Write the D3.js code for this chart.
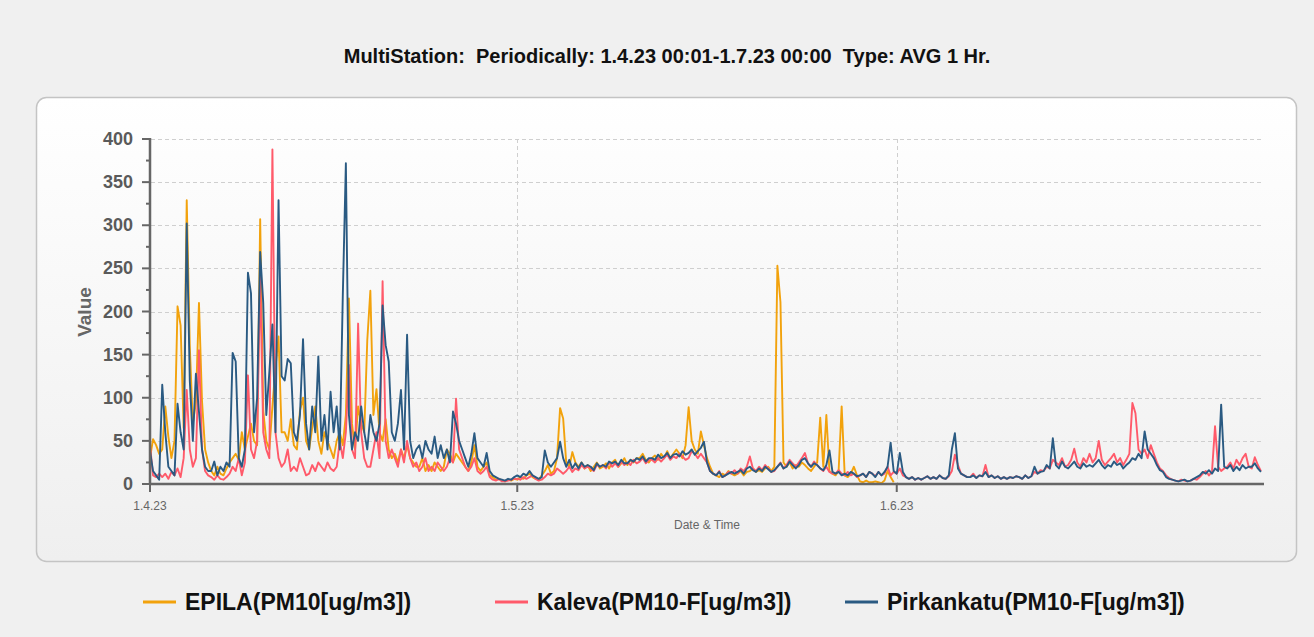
<!DOCTYPE html>
<html>
<head>
<meta charset="utf-8">
<script src="https://cdn.jsdelivr.net/npm/d3@7"></script>
<style>
  html, body { margin: 0; padding: 0; background: #f0f0f0; }
  svg { display: block; font-family: "Liberation Sans", Arial, sans-serif; }
</style>
</head>
<body>
<script>
// values sampled every 6 hours from 1.4.23 00:00
const epila = [
    30, 52, 45, 35, 40, 90, 55, 30, 50, 206, 184, 65, 329, 160, 70, 95, 210, 96, 40, 25, 15, 10, 20, 12, 10, 18, 25, 30,
    35, 28, 60, 40, 55, 70, 50, 45, 307, 85, 50, 40, 90, 135, 171, 60, 60, 50, 75, 45, 40, 85, 100, 50, 40, 65, 90, 50,
    35, 60, 50, 40, 30, 50, 60, 45, 80, 215, 70, 40, 90, 70, 60, 167, 224, 80, 110, 60, 50, 75, 40, 30, 35, 25, 40, 30,
    45, 30, 25, 20, 20, 30, 15, 22, 15, 25, 20, 15, 20, 40, 35, 25, 35, 30, 25, 20, 15, 25, 45, 20, 15, 20, 25, 10,
    8, 5, 6, 4, 3, 5, 4, 6, 5, 8, 6, 10, 12, 8, 6, 5, 10, 15, 22, 12, 15, 30, 88, 76, 25, 20, 37, 25,
    20, 25, 18, 22, 15, 20, 25, 18, 20, 24, 18, 25, 28, 20, 24, 30, 22, 28, 25, 30, 30, 35, 28, 25, 30, 33, 28, 35,
    30, 38, 30, 35, 40, 35, 30, 45, 89, 50, 40, 35, 61, 45, 30, 20, 12, 10, 8, 12, 10, 15, 12, 10, 12, 15, 10, 14,
    15, 18, 14, 16, 14, 18, 20, 15, 20, 253, 211, 25, 20, 25, 18, 22, 20, 25, 22, 18, 15, 20, 25, 77, 20, 80, 15, 12,
    10, 15, 90, 10, 8, 12, 20, 10, 3, 2, 4, 2, 2, 3, 2, 1, 4, 15, 8, 2
];
const kaleva = [
    45, 10, 8, 12, 8, 12, 6, 14, 10, 18, 8, 30, 109, 40, 20, 30, 155, 40, 15, 10, 8, 5, 10, 6, 5, 8, 12, 20,
    15, 30, 10, 25, 126, 40, 30, 50, 240, 60, 40, 30, 388, 60, 30, 20, 25, 40, 15, 20, 15, 30, 20, 10, 12, 22, 15, 25,
    20, 15, 25, 18, 15, 20, 50, 30, 60, 138, 40, 30, 186, 60, 30, 20, 20, 40, 60, 30, 235, 50, 30, 40, 30, 20, 40, 25,
    50, 30, 20, 25, 15, 20, 30, 15, 20, 15, 25, 20, 15, 20, 30, 25, 99, 40, 30, 20, 15, 20, 30, 15, 12, 15, 20, 8,
    5, 4, 6, 3, 3, 4, 5, 6, 6, 5, 8, 6, 8, 10, 6, 4, 5, 8, 12, 10, 12, 18, 15, 12, 15, 20, 14, 18,
    16, 22, 18, 20, 18, 15, 22, 20, 22, 18, 25, 20, 24, 20, 26, 22, 25, 22, 28, 24, 26, 30, 24, 28, 28, 25, 30, 26,
    30, 34, 28, 32, 30, 35, 32, 28, 30, 38, 35, 30, 35, 30, 25, 15, 12, 10, 15, 8, 10, 14, 12, 16, 12, 18, 15, 20,
    32, 18, 15, 20, 16, 22, 18, 14, 15, 20, 25, 18, 22, 28, 24, 20, 25, 30, 36, 24, 20, 26, 22, 18, 15, 20, 14, 12,
    12, 16, 12, 10, 14, 10, 12, 8, 10, 12, 8, 14, 12, 9, 14, 10, 12, 20, 10, 14, 12, 18, 10, 8, 6, 8, 5, 7,
    5, 7, 9, 6, 8, 6, 10, 7, 6, 9, 15, 34, 22, 12, 10, 8, 8, 12, 7, 10, 9, 22, 8, 10, 7, 9, 6, 8,
    6, 8, 7, 9, 8, 6, 10, 7, 9, 14, 12, 16, 15, 20, 18, 28, 25, 22, 30, 20, 22, 28, 41, 25, 20, 30, 25, 35,
    25, 30, 50, 28, 22, 26, 30, 35, 25, 30, 22, 28, 35, 94, 82, 40, 35, 40, 30, 45, 35, 25, 18, 15, 10, 7, 5, 4,
    3, 5, 4, 3, 4, 6, 5, 8, 12, 15, 10, 14, 67, 20, 15, 18, 20, 25, 18, 28, 22, 30, 35, 20, 18, 31, 22, 15
];
const pirkankatu = [
    38, 15, 10, 5, 115, 60, 20, 15, 10, 93, 60, 40, 302, 120, 50, 128, 84, 40, 20, 15, 15, 26, 10, 20, 15, 25, 20, 152,
    142, 30, 20, 40, 245, 221, 60, 100, 269, 210, 80, 130, 185, 60, 329, 125, 120, 145, 140, 60, 50, 80, 168, 70, 40, 90, 60, 148,
    50, 80, 40, 107, 60, 90, 40, 219, 372, 80, 40, 60, 50, 90, 60, 40, 80, 60, 50, 70, 207, 161, 142, 60, 50, 70, 109, 40,
    173, 50, 30, 40, 45, 30, 50, 40, 35, 55, 30, 45, 30, 40, 25, 84, 70, 50, 40, 30, 20, 35, 59, 30, 25, 20, 36, 15,
    10, 8, 6, 5, 4, 6, 5, 8, 10, 8, 12, 10, 15, 10, 8, 6, 8, 39, 25, 20, 25, 30, 49, 30, 20, 28, 18, 24,
    18, 25, 20, 22, 20, 16, 24, 20, 22, 20, 26, 24, 26, 22, 28, 24, 24, 28, 26, 30, 28, 32, 26, 30, 30, 28, 34, 30,
    32, 36, 30, 34, 35, 32, 38, 34, 36, 40, 34, 38, 42, 49, 25, 15, 12, 10, 14, 8, 10, 12, 14, 12, 14, 16, 12, 18,
    20, 16, 14, 18, 15, 20, 17, 14, 16, 20, 24, 18, 20, 26, 22, 18, 22, 28, 30, 24, 20, 24, 22, 18, 16, 22, 39, 14,
    12, 14, 10, 12, 10, 14, 12, 9, 10, 12, 8, 14, 12, 8, 14, 10, 14, 20, 48, 15, 12, 36, 14, 8, 6, 8, 5, 7,
    5, 7, 9, 6, 8, 6, 10, 7, 6, 10, 40, 59, 18, 12, 10, 8, 8, 10, 7, 10, 9, 14, 8, 10, 7, 9, 6, 8,
    6, 8, 7, 9, 8, 6, 10, 7, 9, 20, 12, 14, 15, 22, 18, 53, 22, 18, 26, 20, 18, 22, 26, 20, 18, 24, 20, 22,
    20, 24, 28, 22, 18, 22, 20, 26, 22, 24, 18, 22, 25, 30, 28, 35, 30, 61, 40, 35, 30, 22, 16, 14, 8, 6, 5, 4,
    3, 4, 5, 3, 4, 6, 8, 10, 14, 12, 16, 12, 18, 15, 92, 20, 18, 22, 15, 20, 16, 22, 18, 20, 20, 24, 18, 14
];
const seriesNames = ['EPILA(PM10[ug/m3])', 'Kaleva(PM10-F[ug/m3])', 'Pirkankatu(PM10-F[ug/m3])'];
const seriesColors = ['#f2a20c', '#ff5a6a', '#2a5a82'];
const yTicks = [0, 50, 100, 150, 200, 250, 300, 350, 400];
const xTickDates = ['2023-04-01', '2023-05-01', '2023-06-01'];
const titleText = 'MultiStation:  Periodically: 1.4.23 00:01-1.7.23 00:00  Type: AVG 1 Hr.';

const width = 1314, height = 637;
const margin = { top: 139, right: 50, bottom: 153, left: 150 };
const stepMs = 6 * 3600 * 1000;
const start = Date.UTC(2023, 3, 1, 0);

const svg = d3.select('body').append('svg')
    .attr('width', width)
    .attr('height', height);

const defs = svg.append('defs');
const grad = defs.append('linearGradient')
    .attr('id', 'panelGrad')
    .attr('x1', 0).attr('y1', 0).attr('x2', 0).attr('y2', 1);
grad.append('stop').attr('offset', 0).attr('stop-color', '#ffffff');
grad.append('stop').attr('offset', 1).attr('stop-color', '#efefef');

svg.append('rect')
    .attr('width', width).attr('height', height)
    .attr('fill', '#f0f0f0');

// panel
svg.append('rect')
    .attr('x', 36.5).attr('y', 97.5)
    .attr('width', 1260).attr('height', 464)
    .attr('rx', 10).attr('ry', 10)
    .attr('fill', 'url(#panelGrad)')
    .attr('stroke', '#c4c4c4')
    .attr('stroke-width', 1.5);

svg.append('text')
    .attr('x', 667).attr('y', 63)
    .attr('text-anchor', 'middle')
    .attr('font-size', 20)
    .attr('font-weight', 'bold')
    .attr('fill', '#111')
    .style('white-space', 'pre')
    .text(titleText);

const x = d3.scaleUtc()
    .domain([new Date(start), new Date(Date.UTC(2023, 6, 1, 0))])
    .range([margin.left, width - margin.right]);

const y = d3.scaleLinear()
    .domain([0, 400])
    .range([height - margin.bottom, margin.top]);

// horizontal grid
svg.append('g')
    .selectAll('line')
    .data(yTicks.filter(d => d > 0))
    .join('line')
    .attr('x1', margin.left + 1).attr('x2', width - margin.right)
    .attr('y1', d => Math.round(y(d)) + 0.5).attr('y2', d => Math.round(y(d)) + 0.5)
    .attr('stroke', '#cfcfcf')
    .attr('stroke-dasharray', '4,3');

// vertical grid
svg.append('g')
    .selectAll('line')
    .data(xTickDates.slice(1).map(d => new Date(d + 'T00:00:00Z')))
    .join('line')
    .attr('x1', d => Math.round(x(d)) + 0.5).attr('x2', d => Math.round(x(d)) + 0.5)
    .attr('y1', margin.top).attr('y2', y(0))
    .attr('stroke', '#cfcfcf')
    .attr('stroke-dasharray', '4,3');

// lines
const line = d3.line()
    .defined(d => d != null)
    .x((d, i) => x(new Date(start + i * stepMs)))
    .y(d => y(d));

const plot = svg.append('g');
[epila, kaleva, pirkankatu].forEach((values, k) => {
    plot.append('path')
        .attr('d', line(values))
        .attr('fill', 'none')
        .attr('stroke', seriesColors[k])
        .attr('stroke-width', 1.9)
        .attr('stroke-linejoin', 'round');
});

// y axis
const yAxis = svg.append('g').attr('transform', 'translate(' + margin.left + ',0)');
yAxis.append('line')
    .attr('x1', 0).attr('x2', 0)
    .attr('y1', y(400) - 1).attr('y2', y(0) + 1)
    .attr('stroke', '#666').attr('stroke-width', 2.5);
yAxis.selectAll('.major')
    .data(yTicks)
    .join('line')
    .attr('x1', -8).attr('x2', 0)
    .attr('y1', d => y(d)).attr('y2', d => y(d))
    .attr('stroke', '#666').attr('stroke-width', 2);
yAxis.selectAll('.minor')
    .data(d3.range(25, 400, 50))
    .join('line')
    .attr('x1', -4).attr('x2', 0)
    .attr('y1', d => y(d)).attr('y2', d => y(d))
    .attr('stroke', '#666').attr('stroke-width', 2);
yAxis.selectAll('text')
    .data(yTicks)
    .join('text')
    .attr('x', -17)
    .attr('y', d => y(d) + 6)
    .attr('text-anchor', 'end')
    .attr('font-size', 18)
    .attr('font-weight', 'bold')
    .attr('fill', '#5a5a5a')
    .text(d => d);

svg.append('text')
    .attr('transform', 'translate(91,312) rotate(-90)')
    .attr('text-anchor', 'middle')
    .attr('font-size', 19)
    .attr('font-weight', 'bold')
    .attr('fill', '#666')
    .text('Value');

// x axis
const xAxis = svg.append('g').attr('transform', 'translate(0,' + y(0) + ')');
xAxis.append('line')
    .attr('x1', margin.left).attr('x2', width - margin.right)
    .attr('stroke', '#666').attr('stroke-width', 2.5);
const xt = xAxis.selectAll('g')
    .data(xTickDates.map(d => new Date(d + 'T00:00:00Z')))
    .join('g')
    .attr('transform', d => 'translate(' + x(d) + ',0)');
xt.append('line').attr('y2', 8).attr('stroke', '#666').attr('stroke-width', 2);
xt.append('text')
    .attr('y', 26)
    .attr('text-anchor', 'middle')
    .attr('font-size', 12)
    .attr('fill', '#666')
    .text(d3.utcFormat('%-d.%-m.%y'));

svg.append('text')
    .attr('x', 707).attr('y', 529)
    .attr('text-anchor', 'middle')
    .attr('font-size', 12)
    .attr('fill', '#666')
    .text('Date & Time');

// legend
const legendX = [143, 495, 845];
const legend = svg.append('g')
    .selectAll('g')
    .data(seriesNames)
    .join('g')
    .attr('transform', (d, i) => 'translate(' + legendX[i] + ',602)');
legend.append('line')
    .attr('x1', 0).attr('x2', 33)
    .attr('stroke', (d, i) => seriesColors[i])
    .attr('stroke-width', 3);
legend.append('text')
    .attr('x', 42).attr('y', 8)
    .attr('font-size', 23)
    .attr('font-weight', 'bold')
    .attr('fill', '#111')
    .text(d => d);
</script>
</body>
</html>
